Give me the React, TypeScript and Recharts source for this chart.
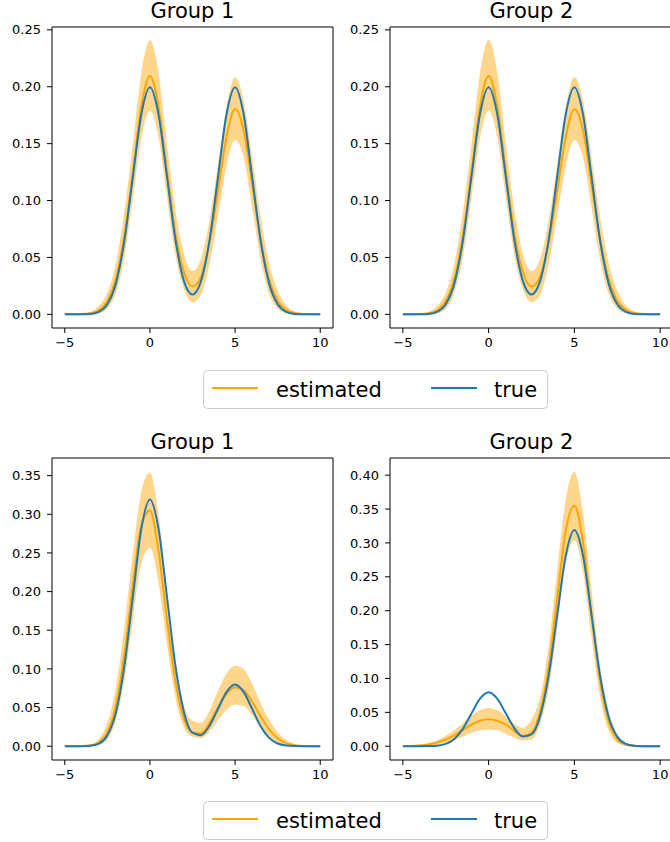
import { ComposedChart, Area, Line, XAxis, YAxis, ReferenceLine } from 'recharts'

const xs = [-5, -4.5, -4, -3.5, -3, -2.5, -2, -1.5, -1, -0.5, 0, 0.5, 1, 1.5, 2, 2.5, 3, 3.5, 4, 4.5, 5, 5.5, 6, 6.5, 7, 7.5, 8, 8.5, 9, 9.5, 10]

// top row (both groups look the same)
const topTrue = [0, 0, 0.0001, 0.0004, 0.0022, 0.0088, 0.027, 0.0648, 0.121, 0.176, 0.1995, 0.176, 0.121, 0.0652, 0.0292, 0.0175, 0.0292, 0.0652, 0.121, 0.176, 0.1995, 0.176, 0.121, 0.0648, 0.027, 0.0088, 0.0022, 0.0004, 0.0001, 0, 0]
const topEst = [0, 0, 0.0002, 0.0009, 0.0035, 0.0115, 0.031, 0.069, 0.125, 0.183, 0.2095, 0.183, 0.126, 0.071, 0.037, 0.0245, 0.033, 0.063, 0.109, 0.156, 0.1805, 0.162, 0.115, 0.066, 0.031, 0.012, 0.004, 0.0011, 0.0003, 0.0001, 0]
const topLo = [0, 0, 0, 0.0001, 0.001, 0.005, 0.019, 0.05, 0.102, 0.155, 0.179, 0.156, 0.103, 0.052, 0.022, 0.0105, 0.017, 0.044, 0.087, 0.13, 0.153, 0.138, 0.094, 0.048, 0.018, 0.005, 0.001, 0.0001, 0, 0, 0]
const topHi = [0, 0.0001, 0.0006, 0.002, 0.0075, 0.019, 0.045, 0.09, 0.15, 0.212, 0.241, 0.213, 0.15, 0.092, 0.053, 0.038, 0.049, 0.083, 0.132, 0.182, 0.2085, 0.188, 0.138, 0.086, 0.045, 0.021, 0.008, 0.0025, 0.0006, 0.0001, 0]

// bottom row, group 1
const blTrue = [0, 0, 0.0001, 0.0007, 0.0035, 0.014, 0.0432, 0.1036, 0.1936, 0.2817, 0.3191, 0.2817, 0.1936, 0.1038, 0.0441, 0.0175, 0.0143, 0.0266, 0.0485, 0.0704, 0.0798, 0.0704, 0.0484, 0.0259, 0.0108, 0.0035, 0.0009, 0.0002, 0, 0, 0]
const blEst = [0, 0, 0.0002, 0.001, 0.0048, 0.0181, 0.0524, 0.1185, 0.2086, 0.2858, 0.305, 0.2535, 0.1641, 0.0836, 0.0352, 0.0178, 0.0165, 0.03, 0.0502, 0.0675, 0.0762, 0.0723, 0.0577, 0.0387, 0.0219, 0.0104, 0.0041, 0.0014, 0.0004, 0.0001, 0]
const blLo = [0, 0, 0, 0.0002, 0.0015, 0.009, 0.033, 0.085, 0.163, 0.237, 0.256, 0.212, 0.132, 0.063, 0.024, 0.0125, 0.0105, 0.019, 0.034, 0.047, 0.054, 0.052, 0.04, 0.025, 0.012, 0.005, 0.0015, 0.0003, 0, 0, 0]
const blHi = [0, 0.0001, 0.0006, 0.0025, 0.0095, 0.03, 0.076, 0.155, 0.25, 0.33, 0.354, 0.3, 0.2, 0.108, 0.052, 0.033, 0.0305, 0.046, 0.072, 0.094, 0.104, 0.1, 0.081, 0.056, 0.034, 0.018, 0.008, 0.003, 0.001, 0.0002, 0]

// bottom row, group 2
const brTrue = [0, 0, 0, 0.0002, 0.0009, 0.0035, 0.0108, 0.0259, 0.0484, 0.0704, 0.0798, 0.0704, 0.0485, 0.0266, 0.0143, 0.0175, 0.0441, 0.1038, 0.1936, 0.2817, 0.3191, 0.2817, 0.1936, 0.1036, 0.0432, 0.014, 0.0035, 0.0007, 0.0001, 0, 0]
const brEst = [0.0002, 0.0004, 0.0011, 0.0026, 0.0054, 0.0099, 0.0164, 0.0242, 0.0319, 0.0377, 0.0399, 0.0377, 0.032, 0.0225, 0.0152, 0.02, 0.0506, 0.1162, 0.2188, 0.3185, 0.355, 0.3015, 0.1951, 0.0965, 0.0364, 0.0105, 0.0023, 0.0004, 0, 0, 0]
const brLo = [0, 0, 0.0002, 0.0008, 0.0022, 0.005, 0.009, 0.014, 0.0195, 0.0235, 0.0248, 0.0235, 0.0185, 0.0125, 0.0085, 0.01, 0.032, 0.085, 0.175, 0.27, 0.304, 0.258, 0.16, 0.072, 0.023, 0.005, 0.0008, 0.0001, 0, 0, 0]
const brHi = [0.0006, 0.0012, 0.0025, 0.0048, 0.009, 0.0155, 0.024, 0.034, 0.045, 0.053, 0.0565, 0.053, 0.044, 0.033, 0.0275, 0.04, 0.072, 0.148, 0.26, 0.365, 0.405, 0.345, 0.23, 0.12, 0.052, 0.018, 0.005, 0.0012, 0.0002, 0, 0]

const xTicks = [-5, 0, 5, 10]
const topYTicks = [0, 0.05, 0.1, 0.15, 0.2, 0.25]
const blYTicks = [0, 0.05, 0.1, 0.15, 0.2, 0.25, 0.3, 0.35]
const brYTicks = [0, 0.05, 0.1, 0.15, 0.2, 0.25, 0.3, 0.35, 0.4]

const FONT = '"DejaVu Sans", sans-serif'
const ORANGE = '#FFA500'
const BLUE = '#1f77b4'
const X_DOMAIN: [number, number] = [-5.75, 10.75]

const fmtX = (v: number) => (v < 0 ? `\u2212${Math.abs(v)}` : `${v}`)
const fmtY = (v: number) => v.toFixed(2)

function rows(tru: number[], est: number[], lo: number[], hi: number[]) {
    return xs.map((x, i) => ({ x, tru: tru[i], est: est[i], band: [lo[i], hi[i]] }))
}

interface PanelProps {
    left: number
    top: number
    width: number
    height: number
    data: any[]
    yTicks: number[]
    yDomain: [number, number]
    title: string
}

function Panel({ left, top, width, height, data, yTicks, yDomain, title }: PanelProps) {
    const rightPad = width > 336 ? 7 : 0
    const plotLeft = left + 52
    const plotW = width - 52 - rightPad
    return (
        <>
            <div style={{
                position: 'absolute', left: plotLeft, top: top + 1, width: plotW,
                textAlign: 'center', fontFamily: FONT, fontSize: 21, lineHeight: '20px',
                color: '#000', whiteSpace: 'nowrap'
            }}>
                {title}
            </div>
            <div style={{ position: 'absolute', left, top }}>
                <ComposedChart width={width} height={height} data={data}
                    margin={{ top: 27, right: rightPad, left: 0, bottom: 2 }}>
                    <XAxis dataKey="x" type="number" domain={X_DOMAIN} ticks={xTicks} interval={0}
                        tickFormatter={fmtX} height={30} tickSize={5} tickMargin={5} allowDataOverflow
                        axisLine={{ stroke: '#000' }} tickLine={{ stroke: '#000' }}
                        tick={{ fontSize: 13, fill: '#000', fontFamily: FONT }} />
                    <YAxis type="number" domain={yDomain} ticks={yTicks} interval={0}
                        tickFormatter={fmtY} width={52} tickSize={5} tickMargin={6} allowDataOverflow
                        axisLine={{ stroke: '#000' }} tickLine={{ stroke: '#000' }}
                        tick={{ fontSize: 13, fill: '#000', fontFamily: FONT }} />
                    <Area dataKey="band" type="monotone" fill={ORANGE} fillOpacity={0.45}
                        stroke="none" isAnimationActive={false} />
                    <Line dataKey="est" type="monotone" stroke={ORANGE} strokeWidth={2}
                        dot={false} isAnimationActive={false} />
                    <Line dataKey="tru" type="monotone" stroke={BLUE} strokeWidth={2}
                        dot={false} isAnimationActive={false} />
                    <ReferenceLine y={yDomain[1]} stroke="#000" />
                    <ReferenceLine x={X_DOMAIN[1]} stroke="#000" />
                </ComposedChart>
            </div>
        </>
    )
}

function LegendBox({ top }: { top: number }) {
    return (
        <svg width={346} height={40} style={{ position: 'absolute', left: 203, top }}>
            <rect x={0.5} y={0.5} width={344} height={38} rx={4} fill="#fff" stroke="#cccccc" />
            <line x1={9} x2={55} y1={18} y2={18} stroke={ORANGE} strokeWidth={2} />
            <text x={73} y={26.5} fontFamily={FONT} fontSize={21} fill="#000">estimated</text>
            <line x1={228} x2={274} y1={18} y2={18} stroke={BLUE} strokeWidth={2} />
            <text x={291} y={26.5} fontFamily={FONT} fontSize={21} fill="#000">true</text>
        </svg>
    )
}

export default function App() {
    const top = rows(topTrue, topEst, topLo, topHi)
    const bl = rows(blTrue, blEst, blLo, blHi)
    const br = rows(brTrue, brEst, brLo, brHi)

    return (
        <div style={{
            position: 'absolute', left: 0, top: 0, width: 670, height: 842,
            overflow: 'hidden', background: '#fff'
        }}>
            <Panel left={0} top={0} width={340} height={360} data={top}
                yTicks={topYTicks} yDomain={[-0.012, 0.2525]} title="Group 1" />
            <Panel left={338} top={0} width={335} height={360} data={top}
                yTicks={topYTicks} yDomain={[-0.012, 0.2525]} title="Group 2" />
            <LegendBox top={370} />
            <Panel left={0} top={431} width={340} height={361} data={bl}
                yTicks={blYTicks} yDomain={[-0.0178, 0.3728]} title="Group 1" />
            <Panel left={338} top={431} width={335} height={361} data={br}
                yTicks={brYTicks} yDomain={[-0.0203, 0.4253]} title="Group 2" />
            <LegendBox top={801} />
        </div>
    )
}
